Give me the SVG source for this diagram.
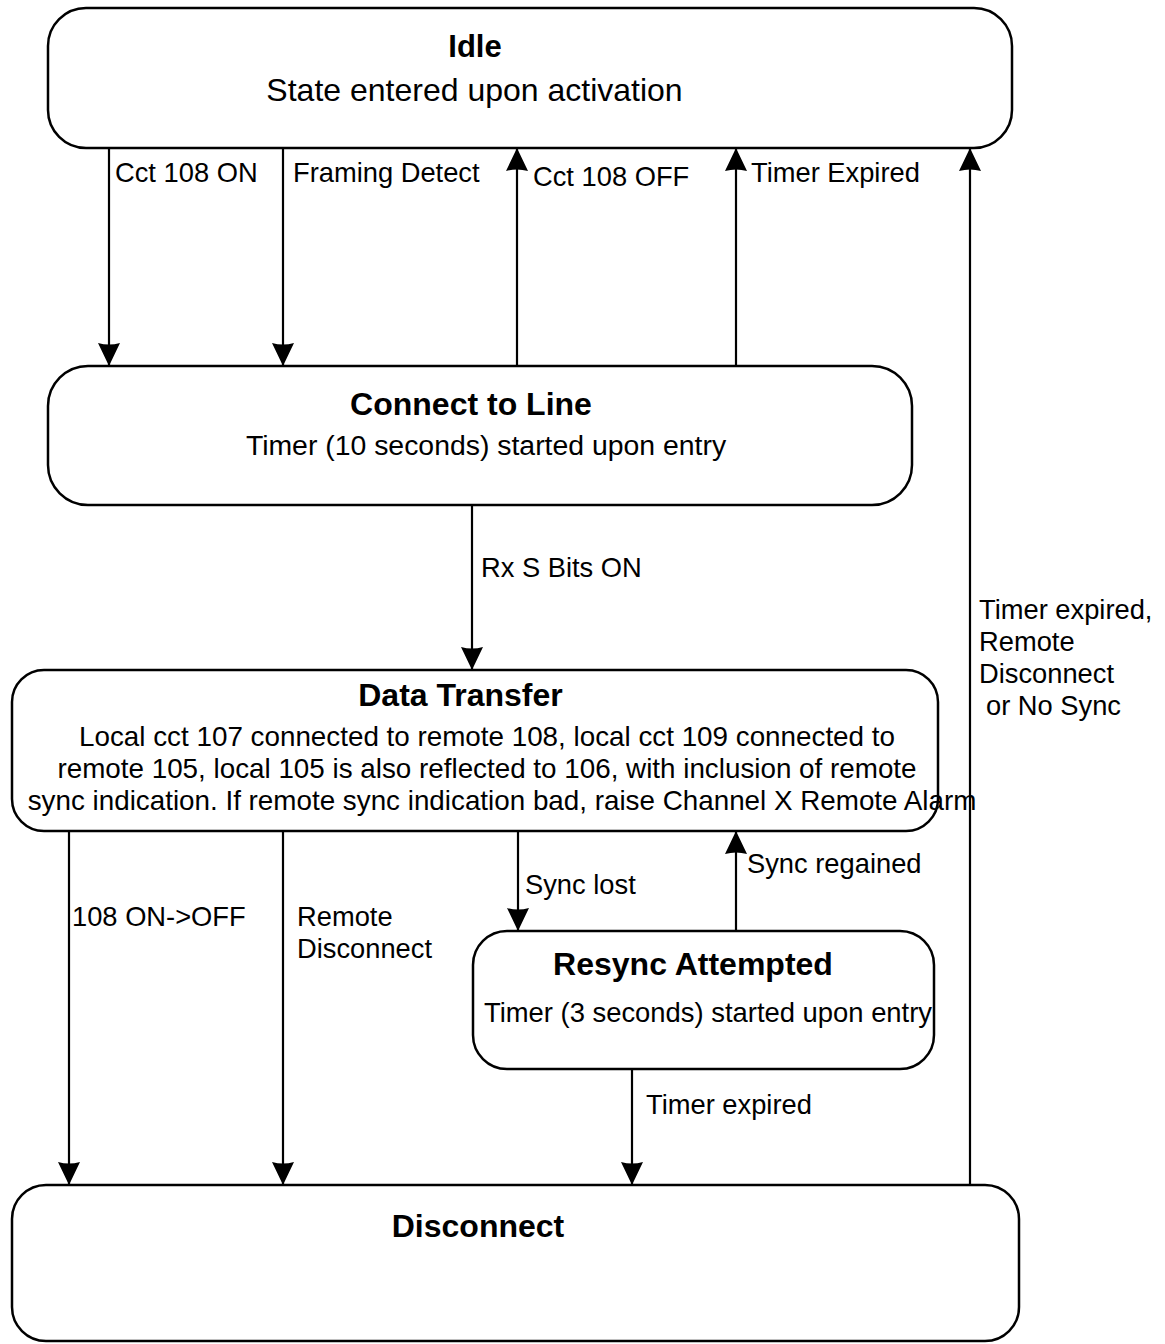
<svg xmlns="http://www.w3.org/2000/svg" width="1165" height="1344" viewBox="0 0 1165 1344">
  <style>
    .state { fill: #ffffff; stroke: #000000; stroke-width: 2.5; }
    .title { font-family: "Liberation Sans", Arial, sans-serif; font-weight: bold; font-size: 32px; fill: #000; text-anchor: middle; }
    .body { font-family: "Liberation Sans", Arial, sans-serif; font-size: 27.8px; fill: #000; text-anchor: middle; }
    .label { font-family: "Liberation Sans", Arial, sans-serif; font-size: 27.3px; fill: #000; }
    .edge { stroke: #000000; stroke-width: 2.2; fill: none; marker-end: url(#arrow); }
  </style>
  <defs>
    <marker id="arrow" markerUnits="userSpaceOnUse" markerWidth="24" markerHeight="24" refX="23" refY="11" orient="auto">
      <path d="M0,0 L23,11 L0,22 Q3,11 0,0 z" fill="#000"/>
    </marker>
  </defs>
  <rect width="1165" height="1344" fill="#ffffff"/>

  <!-- transitions -->
  <g id="connectors">
    <line class="edge" x1="109" y1="148" x2="109" y2="366"/>
    <line class="edge" x1="283" y1="148" x2="283" y2="366"/>
    <line class="edge" x1="517" y1="366" x2="517" y2="148"/>
    <line class="edge" x1="736" y1="366" x2="736" y2="148"/>
    <line class="edge" x1="472" y1="505" x2="472" y2="670"/>
    <line class="edge" x1="69" y1="831" x2="69" y2="1185"/>
    <line class="edge" x1="283" y1="831" x2="283" y2="1185"/>
    <line class="edge" x1="518" y1="831" x2="518" y2="931"/>
    <line class="edge" x1="736" y1="931" x2="736" y2="831"/>
    <line class="edge" x1="632" y1="1069" x2="632" y2="1185"/>
    <line class="edge" x1="970" y1="1185" x2="970" y2="148"/>

    <text class="label" x="115" y="182">Cct 108 ON</text>
    <text class="label" x="293" y="182">Framing Detect</text>
    <text class="label" x="533" y="186">Cct 108 OFF</text>
    <text class="label" x="751" y="182">Timer Expired</text>
    <text class="label" x="481" y="577">Rx S Bits ON</text>
    <text class="label" x="72" y="926">108 ON-&gt;OFF</text>
    <text class="label" x="297" y="926">Remote</text>
    <text class="label" x="297" y="958">Disconnect</text>
    <text class="label" x="525" y="894">Sync lost</text>
    <text class="label" x="747" y="873">Sync regained</text>
    <text class="label" x="646" y="1114">Timer expired</text>
    <text class="label" x="979" y="619">Timer expired,</text>
    <text class="label" x="979" y="651">Remote</text>
    <text class="label" x="979" y="683">Disconnect</text>
    <text class="label" x="986" y="715">or No Sync</text>
  </g>

  <g id="idle">
    <rect class="state" x="48" y="8" width="964" height="140" rx="38" ry="38"/>
    <text class="title" x="475" y="57" style="font-size:31px">Idle</text>
    <text class="body" x="474.5" y="101" style="font-size:32px">State entered upon activation</text>
  </g>

  <g id="connect-to-line">
    <rect class="state" x="48" y="366" width="864" height="139" rx="40" ry="40"/>
    <text class="title" x="471" y="415">Connect to Line</text>
    <text class="body" x="486" y="455" style="font-size:28.4px">Timer (10 seconds) started upon entry</text>
  </g>

  <g id="data-transfer">
    <rect class="state" x="12" y="670" width="926" height="161" rx="32" ry="32"/>
    <text class="title" x="460.5" y="706">Data Transfer</text>
    <text class="body" x="487" y="746">Local cct 107 connected to remote 108, local cct 109 connected to</text>
    <text class="body" x="487" y="778">remote 105, local 105 is also reflected to 106, with inclusion of remote</text>
    <text class="body" x="502" y="810">sync indication. If remote sync indication bad, raise Channel X Remote Alarm</text>
  </g>

  <g id="resync-attempted">
    <rect class="state" x="473" y="931" width="461" height="138" rx="34" ry="34"/>
    <text class="title" x="693" y="975">Resync Attempted</text>
    <text class="body" x="708" y="1022" style="font-size:27.4px">Timer (3 seconds) started upon entry</text>
  </g>

  <g id="disconnect">
    <rect class="state" x="12" y="1185" width="1007" height="156" rx="34" ry="34"/>
    <text class="title" x="478" y="1237">Disconnect</text>
  </g>
</svg>
